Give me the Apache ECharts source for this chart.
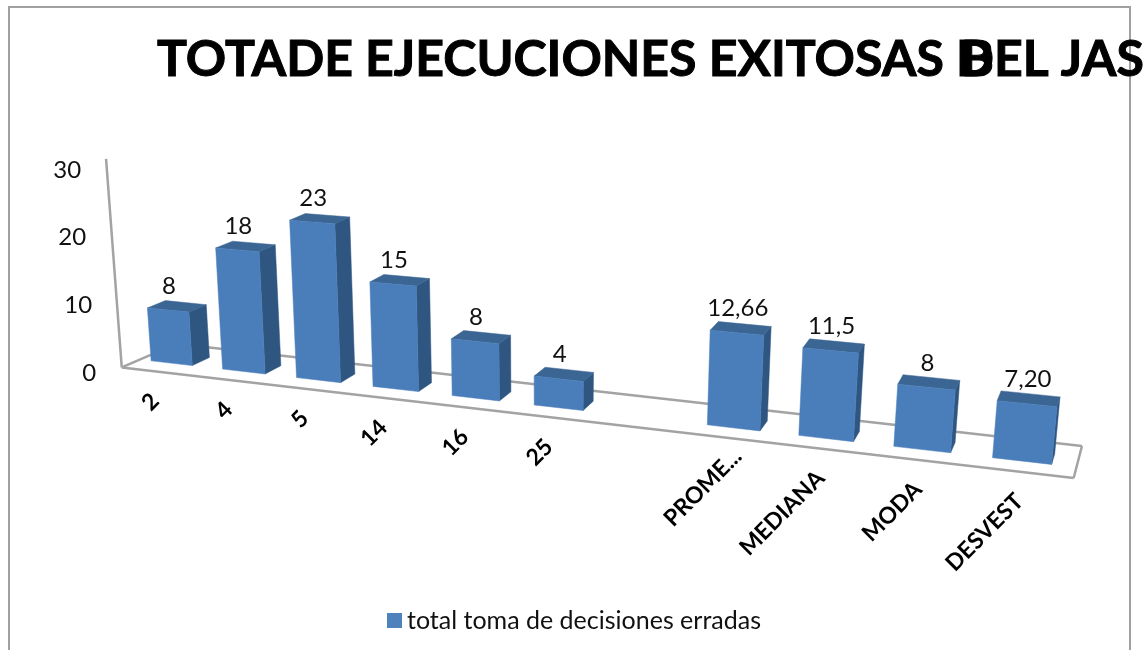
<!DOCTYPE html>
<html>
<head>
<meta charset="utf-8">
<script src="https://cdn.jsdelivr.net/npm/echarts@6/dist/echarts.min.js"></script>
<style>html,body{margin:0;padding:0;background:#fff}#c{width:1148px;height:650px}</style>
</head>
<body>
<div id="c"></div>
<script>
const categories = ['2','4','5','14','16','25','','PROME...','MEDIANA','MODA','DESVEST'];
const values = [8,18,23,15,8,4,null,12.66,11.5,8,7.2];
const valueLabels = ['8','18','23','15','8','4','','12,66','11,5','8','7,20'];
const yTicks = [0,10,20,30];
const seriesName = 'total toma de decisiones erradas';
const titleText = 'TOTADE EJECUCIONES EXITOSAS DEL JAS';

const FONT = 'Lato, "Open Sans", sans-serif';
const COLORS = {front:'#4A7EBB', side:'#2F5581', top:'#3B6592', line:'#A3A3A3', frame:'#A0A0A0'};

// Oblique perspective applied to the library's own cartesian coordinates.
const PERSP = 0.0165, DROP = 8.17, BASE_DY = -9.8, VSCALE = 0.983;
function project(api, idx, value, off, depth) {
  const p = api.coord([idx, value]);
  const zero = api.coord([0, 0]);
  const band = api.size([1, 0])[0];
  const u = idx + off;
  const den = 1 - PERSP * u;
  const xb = zero[0] + band * u / den + depth * (17.5 - 1.4 * u);
  const yb = zero[1] + BASE_DY + DROP * u / den - depth * (8 + 0.25 * u);
  const h = (zero[1] - p[1]) * VSCALE / den * (1 - 0.012 * depth);
  return [xb + h * (xb - 540) * 0.00018, yb - h];
}
function poly(points, fill) {
  return {type:'polygon', shape:{points}, style:{fill, stroke:fill, lineWidth:0.5}};
}
function renderBar(params, api) {
  const i = api.value(0), v = api.value(1);
  if (v == null || isNaN(v)) return null;
  const W = 0.29;
  const fbl = project(api,i,0,-W,0), fbr = project(api,i,0,W,0);
  const ftl = project(api,i,v,-W,0), ftr = project(api,i,v,W,0);
  const bbr = project(api,i,0,W,1), btr = project(api,i,v,W,1), btl = project(api,i,v,-W,1);
  const topC = project(api,i,v,0,0);
  return {type:'group', children:[
    poly([ftr,btr,bbr,fbr], COLORS.side),
    poly([ftl,btl,btr,ftr], COLORS.top),
    poly([ftl,ftr,fbr,fbl], COLORS.front),
    {type:'text', style:{text:valueLabels[i], x:topC[0]+1, y:topC[1]-24, fill:'#111',
      font:'24px '+FONT, textAlign:'center', textVerticalAlign:'middle'}}
  ]};
}
function renderCategory(params, api) {
  const i = api.value(0);
  if (!categories[i]) return null;
  const a = project(api,i,0,0,-1);
  const nudge = categories[i].endsWith('...') ? 11 : 0;
  return {type:'text', x:a[0]+1+nudge, y:a[1]+26-nudge, rotation:Math.PI/4,
    style:{text:categories[i], x:0, y:0, fill:'#000', font:'bold 23px '+FONT,
      textAlign:'right', textVerticalAlign:'middle'}};
}
function renderFloor(params, api) {
  const U0 = -0.45, U1 = 10.53;
  const line = (a,b,w)=>({type:'line', shape:{x1:a[0],y1:a[1],x2:b[0],y2:b[1]}, style:{stroke:COLORS.line, lineWidth:w||2.5}});
  const fl = project(api,0,0,U0,-1), fr = project(api,0,0,U1,-1), br = project(api,0,0,U1,2), bl = project(api,0,0,U0,2);
  const top = project(api,0,31.2,U0,-1);
  return {type:'group', children:[line(fl,fr),line(fr,br),line(br,bl),line(bl,fl),line(fl,top)]};
}

const titleStyle = {fontFamily:FONT, fontWeight:'bold', fontSize:50, color:'#000', textBorderColor:'#000', textBorderWidth:1};
const chart = echarts.init(document.getElementById('c'), null, {renderer:'canvas'});
chart.setOption({
  animation:false,
  backgroundColor:'#fff',
  graphic:[{type:'rect', z:-1, shape:{x:9,y:7,width:1121,height:660},
    style:{fill:'#fff', stroke:COLORS.frame, lineWidth:2}}],
  title:[
    {text:titleText, left:157, top:35, padding:0, textStyle:titleStyle},
    {text:'B', left:961, top:35, padding:0, textStyle:titleStyle}
  ],
  legend:{show:true, left:387, top:608, padding:0, itemWidth:15, itemHeight:15, itemGap:5,
    data:[{name:seriesName, icon:'rect', itemStyle:{color:'#4F81BD'}}],
    textStyle:{fontFamily:FONT, fontSize:25, color:'#111', padding:[8,0,0,0]}},
  grid:{left:136.1, width:781, top:170, height:203, containLabel:false},
  xAxis:{type:'category', data:categories, axisLine:{show:false}, axisTick:{show:false},
    axisLabel:{show:false}, splitLine:{show:false}},
  yAxis:{type:'value', min:yTicks[0], max:yTicks[yTicks.length-1], interval:10,
    axisLine:{show:false}, axisTick:{show:false}, splitLine:{show:false},
    axisLabel:{margin:40, formatter:v=>'{v'+v+'|'+v+'}',
      rich:{
        v0:{fontFamily:FONT,fontSize:24,color:'#111'},
        v10:{fontFamily:FONT,fontSize:24,color:'#111',padding:[0,4,0,0]},
        v20:{fontFamily:FONT,fontSize:24,color:'#111',padding:[0,10,0,0]},
        v30:{fontFamily:FONT,fontSize:24,color:'#111',padding:[0,15,0,0]}
      }}},
  series:[
    {type:'custom', name:'floor', silent:true, clip:false, z:1, renderItem:renderFloor, data:[[0,0]], encode:{x:0,y:1}},
    {type:'custom', name:seriesName, silent:true, clip:false, z:2, renderItem:renderBar,
      itemStyle:{color:'#4F81BD'},
      data:categories.map((c,i)=>[i, values[i]===null?'-':values[i]]), encode:{x:0,y:1}},
    {type:'custom', name:'categoryLabels', silent:true, clip:false, z:3, renderItem:renderCategory,
      data:categories.map((c,i)=>[i,0]), encode:{x:0,y:1}}
  ]
});
</script>
</body>
</html>
